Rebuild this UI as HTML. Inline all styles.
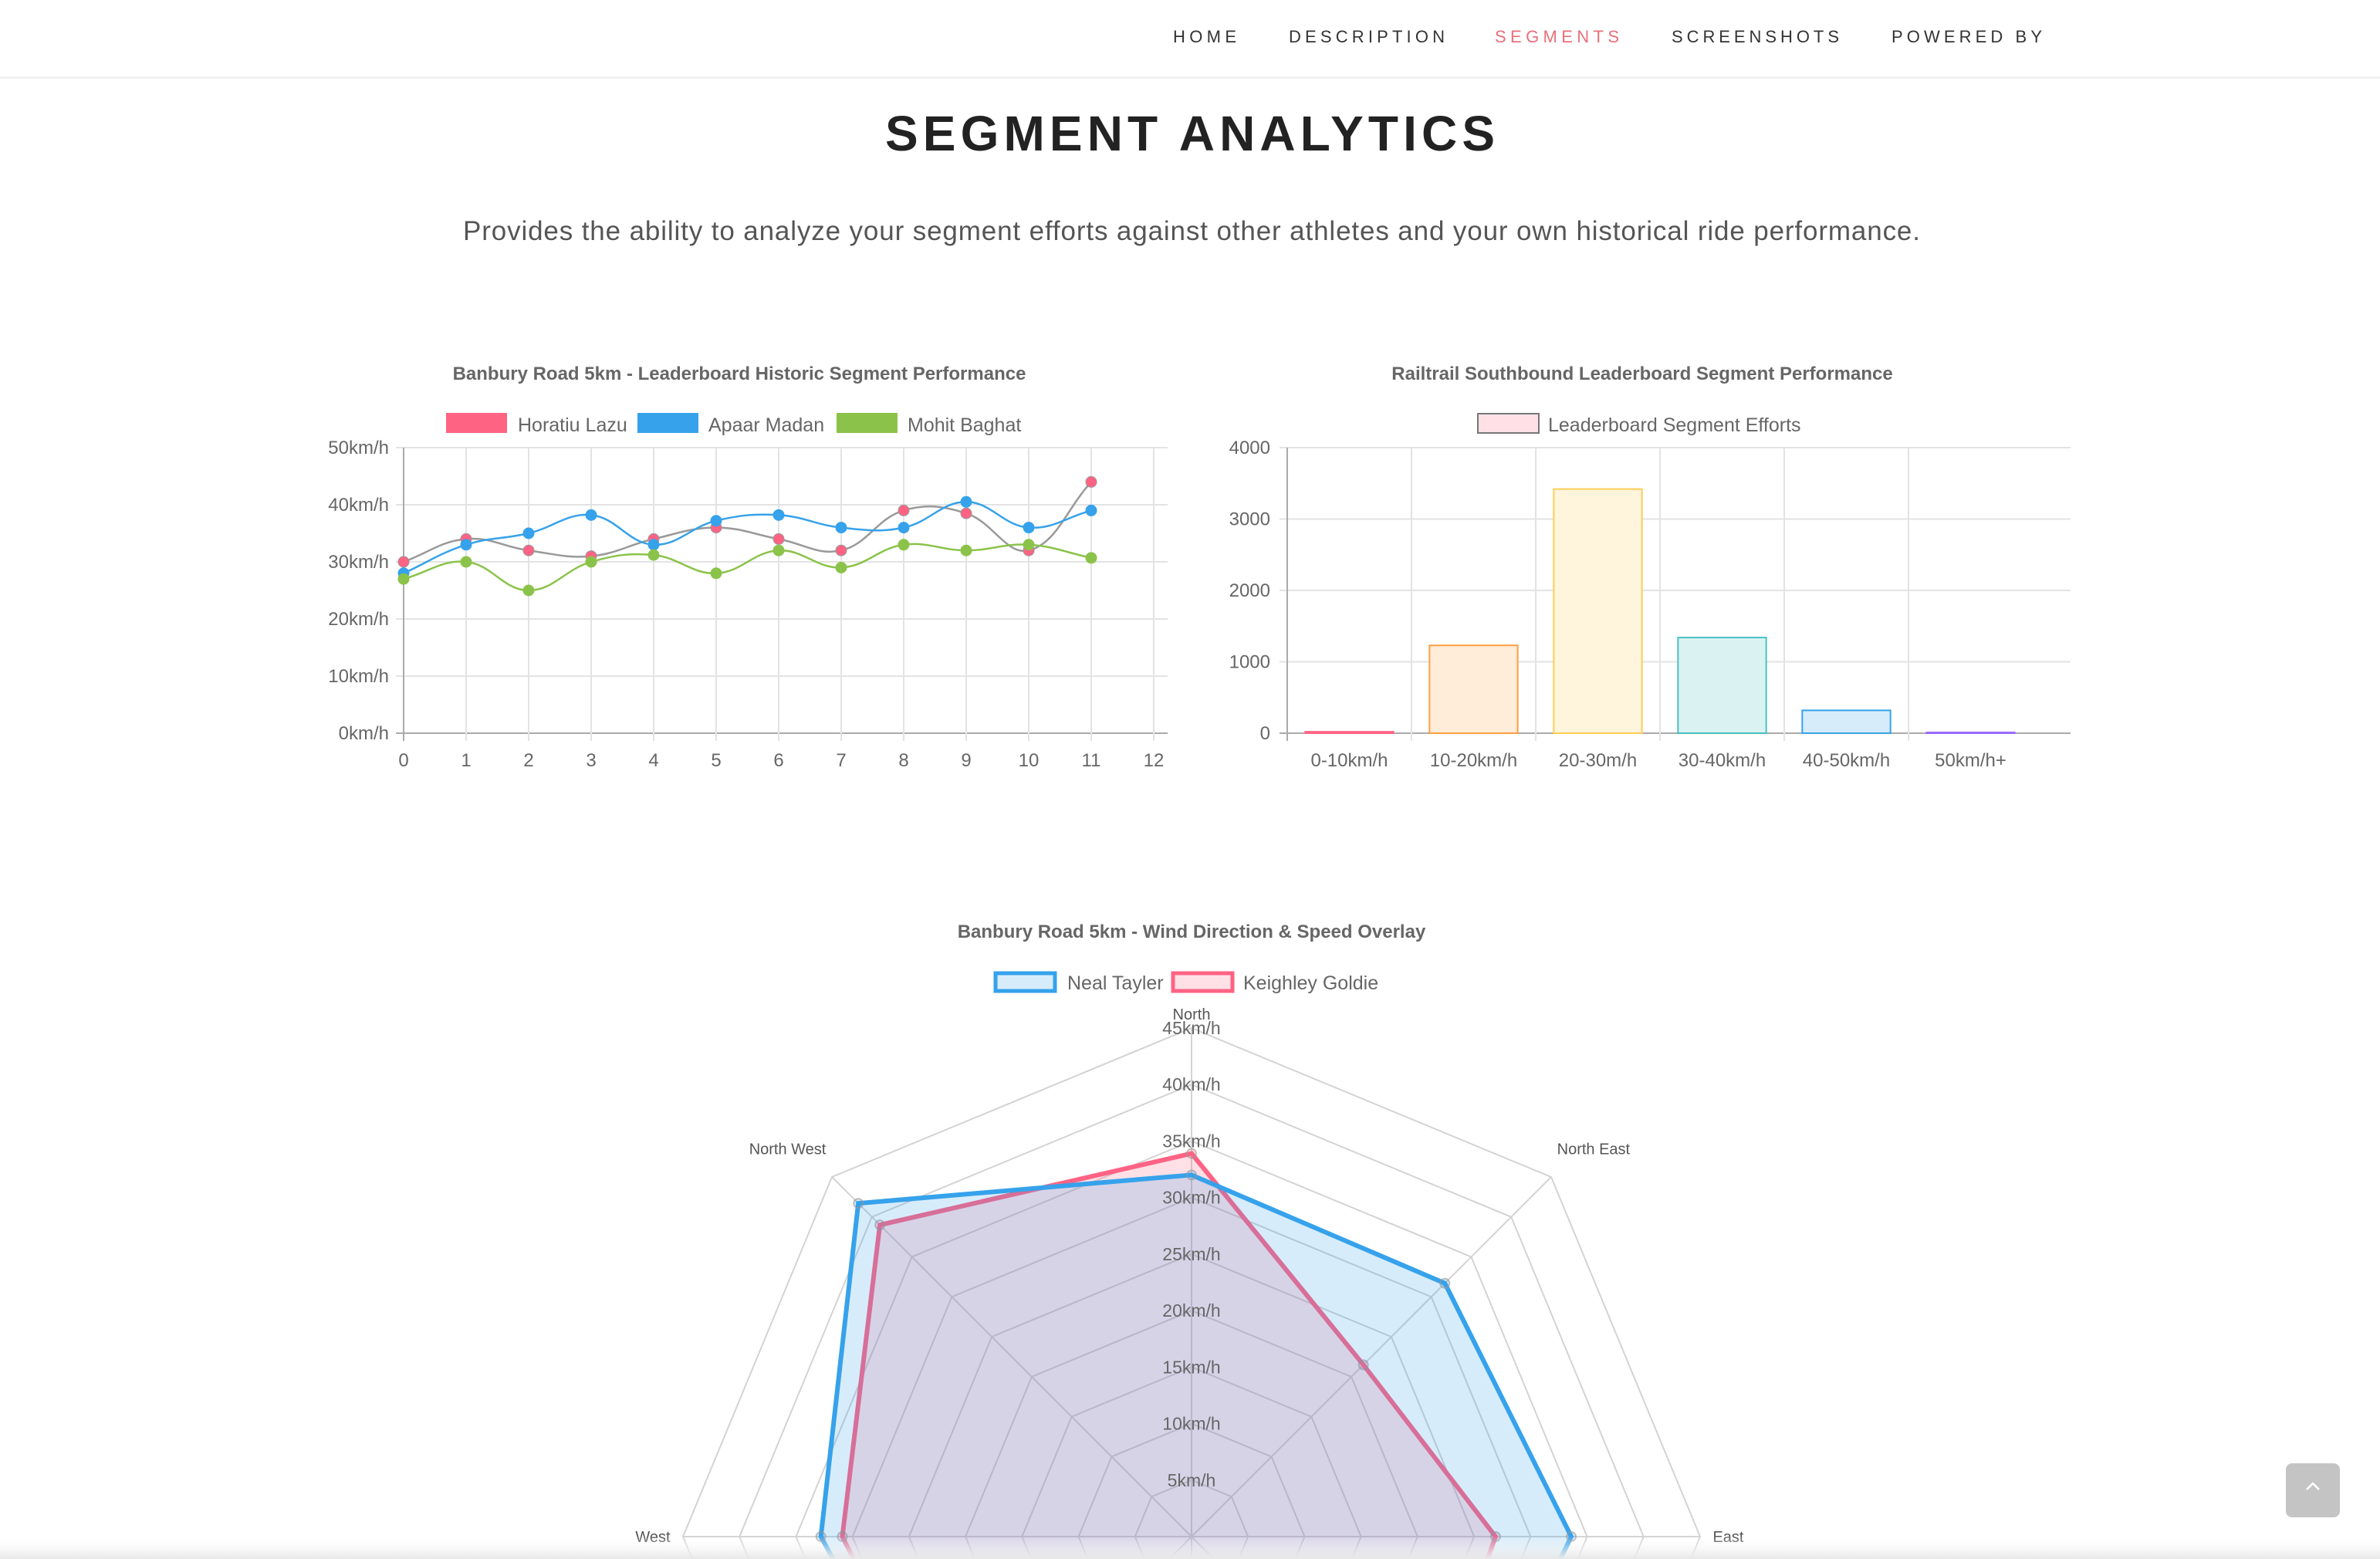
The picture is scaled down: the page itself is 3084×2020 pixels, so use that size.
<!DOCTYPE html>
<html><head><meta charset="utf-8"><style>
html,body{margin:0;padding:0;background:#fff;width:3084px;height:2020px;overflow:hidden;}
svg{display:block;font-family:"Liberation Sans",sans-serif;}
</style></head><body>
<svg id="s" width="3084" height="2020" viewBox="0 0 3084 2020" xmlns="http://www.w3.org/2000/svg">
<defs>
<linearGradient id="fade" x1="0" y1="0" x2="0" y2="1"><stop offset="0" stop-color="#fff" stop-opacity="0"/><stop offset="1" stop-color="#e8e8e8" stop-opacity="1"/></linearGradient>
</defs>
<g font-size="22" fill="#333" letter-spacing="5">
<text x="1520" y="55" textLength="87">HOME</text>
<text x="1670" y="55" textLength="207">DESCRIPTION</text>
<text x="1937" y="55" textLength="166" fill="#e8707a">SEGMENTS</text>
<text x="2166" y="55" textLength="222">SCREENSHOTS</text>
<text x="2451" y="55" textLength="200">POWERED BY</text>
</g>
<rect x="0" y="99" width="3084" height="3" fill="#f2f2f2"/>
<text x="1147" y="195" font-size="64" font-weight="bold" fill="#222" textLength="790">SEGMENT ANALYTICS</text>
<text x="600" y="311" font-size="35" fill="#555" textLength="1888">Provides the ability to analyze your segment efforts against other athletes and your own historical ride performance.</text>
<g id="line"></g>
<g id="bar"></g>
<g id="radar"></g>
<rect x="0" y="1990" width="3084" height="30" fill="url(#fade)"/>
<g>
<rect x="2962" y="1896" width="70" height="70" rx="8" fill="#c4c4c4"/>
<path d="M2989 1930 L2997 1922 L3005 1930" stroke="#fff" stroke-width="2.5" fill="none"/>
</g>
</svg>
<script>
const NS='http://www.w3.org/2000/svg';
// ---- line chart data ----
const lineLabels=[0,1,2,3,4,5,6,7,8,9,10,11,12];
const lineYTicks=[0,10,20,30,40,50];
const horatiu=[30,34,32,31,34,36,34,32,39,38.5,32,44];
const apaar=[28,33,35,38.2,33,37.2,38.2,36,36,40.5,36,39];
const mohit=[27,30,25,30,31.2,28,32,29,33,32,33,30.7];
// ---- bar chart data ----
const barCats=['0-10km/h','10-20km/h','20-30m/h','30-40km/h','40-50km/h','50km/h+'];
const barVals=[20,1230,3420,1340,320,10];
const barTicks=[0,1000,2000,3000,4000];
// ---- radar data ----
const dirs=['North','North East','East','South East','South','South West','West','North West'];
const neal=[32,31.7,33.6,32,28,30,32.8,41.7];
const keighley=[33.9,21.5,26.9,28,25,29,30.9,39];
const radarTicks=[5,10,15,20,25,30,35,40,45];

function el(tag,attrs,parent,txt){const e=document.createElementNS(NS,tag);for(const k in attrs)e.setAttribute(k,attrs[k]);if(txt!==undefined)e.textContent=txt;parent.appendChild(e);return e;}

function spline(pts){let d='M'+pts[0][0]+' '+pts[0][1];const t=0.4;
 const cps=pts.map((p,i)=>{const a=pts[Math.max(0,i-1)],c=pts[Math.min(pts.length-1,i+1)];
  const d01=Math.hypot(p[0]-a[0],p[1]-a[1]),d12=Math.hypot(c[0]-p[0],c[1]-p[1]);
  let fa=d01/(d01+d12)||0,fb=d12/(d01+d12)||0;fa*=t;fb*=t;
  return {p:[p[0]-fa*(c[0]-a[0]),p[1]-fa*(c[1]-a[1])],n:[p[0]+fb*(c[0]-a[0]),p[1]+fb*(c[1]-a[1])]};});
 for(let i=1;i<pts.length;i++){d+=` C${cps[i-1].n[0]} ${cps[i-1].n[1]} ${cps[i].p[0]} ${cps[i].p[1]} ${pts[i][0]} ${pts[i][1]}`;}
 return d;}

// line chart
(function(){const g=document.getElementById('line');
 const X0=523,X1=1495,Y0=950,Y1=580,XR=1513;
 const xs=v=>X0+(X1-X0)*v/12, ys=v=>Y0-(Y0-Y1)*v/50;
 let t=el('text',{x:958,y:492,'font-size':24,'font-weight':'bold',fill:'#666','text-anchor':'middle'},g,'Banbury Road 5km - Leaderboard Historic Segment Performance');
 
 const leg=[['Horatiu Lazu','#ff6384',578,671],['Apaar Madan','#36a2eb',826,918],['Mohit Baghat','#8bc34a',1084,1176]];
 leg.forEach(l=>{const lg=el('g',{},g);
  el('rect',{x:l[2],y:535,width:79,height:26,fill:l[1]},lg);el('text',{x:l[3],y:559,'font-size':25,fill:'#666'},lg,l[0]);});
 lineYTicks.forEach(v=>{const y=ys(v);const gl=el('line',{x1:X0-10,x2:XR,y1:y,y2:y,stroke:v===0?'#aaa':'#e3e3e3','stroke-width':2},g);
  
  const tl=el('text',{x:504,y:y+8,'font-size':24,fill:'#666','text-anchor':'end'},g,v+'km/h');});
 lineLabels.forEach(v=>{const x=xs(v);const gl=el('line',{x1:x,x2:x,y1:Y1,y2:Y0+10,stroke:v===0?'#aaa':'#e3e3e3','stroke-width':2},g);
  
  const tl=el('text',{x:x,y:993,'font-size':24,fill:'#666','text-anchor':'middle'},g,String(v));});
 const series=[[horatiu,'#999','#ff6384','horatiu'],[apaar,'#36a2eb','#36a2eb','apaar'],[mohit,'#8bc34a','#8bc34a','mohit']];
 series.forEach(s=>{const pts=s[0].map((v,i)=>[xs(i),ys(v)]);
  const p=el('path',{d:spline(pts),fill:'none',stroke:s[1],'stroke-width':2.5},g);
  pts.forEach(q=>{const c=el('circle',{cx:q[0],cy:q[1],r:7,fill:s[2],stroke:s[1],'stroke-width':1},g);});});
})();

// bar chart
(function(){const g=document.getElementById('bar');
 const X0=1668,X1=2683,Y0=950,Y1=580;const cw=161;const ys=v=>Y0-(Y0-Y1)*v/4000;
 let t=el('text',{x:2128,y:492,'font-size':24,'font-weight':'bold',fill:'#666','text-anchor':'middle'},g,'Railtrail Southbound Leaderboard Segment Performance');
 
 const lg=el('g',{},g);
 el('rect',{x:1915,y:536,width:79,height:25,fill:'#ffe0e6',stroke:'#777','stroke-width':2},lg);
 el('text',{x:2006,y:559,'font-size':25,fill:'#666'},lg,'Leaderboard Segment Efforts');
 barTicks.forEach(v=>{const y=ys(v);const gl=el('line',{x1:X0-10,x2:X1,y1:y,y2:y,stroke:v===0?'#aaa':'#e3e3e3','stroke-width':2},g);
  
  const tl=el('text',{x:1646,y:y+8,'font-size':24,fill:'#666','text-anchor':'end'},g,String(v));});
 for(let i=0;i<barCats.length;i++){const x=X0+i*cw;const gl=el('line',{x1:x,x2:x,y1:Y1,y2:Y0+10,stroke:i===0?'#aaa':'#e3e3e3','stroke-width':2},g);}
 const strokes=['#ff6384','#ff9f40','#ffcd56','#4bc0c0','#36a2eb','#9966ff'];
 const fills=['#ffe0e6','#ffecd9','#fff5dd','#dbf2f2','#d7ecfb','#ebe0ff'];
 barCats.forEach((c,i)=>{const bw=cw*0.71,x=X0+i*cw+(cw-bw)/2,y=ys(barVals[i]);
  const r=el('rect',{x:x,y:y,width:bw,height:Y0-y,fill:fills[i],stroke:strokes[i],'stroke-width':2},g);
  const tl=el('text',{x:X0+i*cw+cw/2,y:993,'font-size':24,fill:'#666','text-anchor':'middle'},g,c);});
})();

// radar chart
(function(){const g=document.getElementById('radar');
 const CX=1544,CY=1991,R=659,MAX=45;const n=dirs.length;
 const pt=(i,v)=>{const a=-Math.PI/2+i*2*Math.PI/n;return [CX+Math.cos(a)*R*v/MAX,CY+Math.sin(a)*R*v/MAX];};
 let t=el('text',{x:1544,y:1215,'font-size':24,'font-weight':'bold',fill:'#666','text-anchor':'middle'},g,'Banbury Road 5km - Wind Direction & Speed Overlay');
 
 const leg=[['Neal Tayler','#36a2eb','#d7ecfb',1290,1383],['Keighley Goldie','#ff6384','#ffe0e6',1520,1611]];
 leg.forEach(l=>{const lg=el('g',{},g);
  el('rect',{x:l[3],y:1261,width:77,height:23,fill:l[2],stroke:l[1],'stroke-width':5},lg);el('text',{x:l[4],y:1282,'font-size':25,fill:'#666'},lg,l[0]);});
 radarTicks.forEach(v=>{const p=dirs.map((d,i)=>pt(i,v).join(' ')).join(' L');
  const r=el('path',{d:'M'+p+'Z',fill:'none',stroke:'#d3d3d3','stroke-width':2},g);});
 dirs.forEach((d,i)=>{const q=pt(i,MAX);const a=el('line',{x1:CX,y1:CY,x2:q[0],y2:q[1],stroke:'#d3d3d3','stroke-width':2},g);
  const lp=pt(i,MAX*1.025);const ang=i*360/n;let anchor='middle';if(ang>10&&ang<170)anchor='start';if(ang>190&&ang<350)anchor='end';
  let y=lp[1]+7; if(i===1||i===7) y=lp[1]-18; if(i===0) y=1321;
  let x=lp[0]; if(i===1) x=lp[0]-4; if(i===7) x=lp[0]+4;
  const l=el('text',{x:x,y:y,'font-size':20,fill:'#555','text-anchor':anchor},g,d);
  });
 [[keighley,'#ff6384','rgba(255,99,132,0.2)','keighley'],[neal,'#36a2eb','rgba(54,162,235,0.2)','neal']].forEach(s=>{
  const pts=s[0].map((v,i)=>pt(i,v));
  const p=el('path',{d:'M'+pts.map(q=>q.join(' ')).join(' L')+'Z',fill:s[2],stroke:s[1],'stroke-width':6,'stroke-linejoin':'miter'},g);
  
  pts.forEach(q=>{const c=el('circle',{cx:q[0],cy:q[1],r:6,fill:s[2],stroke:'rgba(150,150,150,0.6)','stroke-width':2},g);});});
 radarTicks.forEach(v=>{const q=pt(0,v);const tl=el('text',{x:CX,y:q[1]+8,'font-size':23,fill:'#666','text-anchor':'middle'},g,v+'km/h');
  });
})();
</script>
</body></html>
